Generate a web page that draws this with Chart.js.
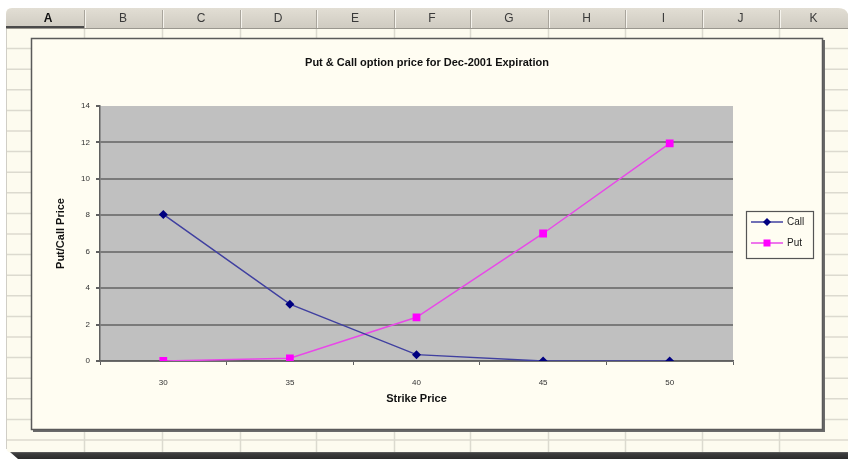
<!DOCTYPE html>
<html><head><meta charset="utf-8">
<script src="https://cdn.jsdelivr.net/npm/chart.js@4.4.1/dist/chart.umd.min.js"></script>
<style>html,body{margin:0;padding:0;background:#fff;overflow:hidden}#wrap{width:848px;height:459px;position:relative}</style>
</head><body><div id="wrap"><canvas id="c" width="848" height="459"></canvas></div>
<script>
const chartTitle = 'Put & Call option price for Dec-2001 Expiration';
const xAxisTitle = 'Strike Price';
const yAxisTitle = 'Put/Call Price';
const strikes = ['30', '35', '40', '45', '50'];
const callPrices = [8.05, 3.12, 0.35, 0, 0];
const putPrices = [0, 0.15, 2.4, 7.0, 11.95];
const yMin = 0, yMax = 14, yStep = 2;
const columnLetters = ['A', 'B', 'C', 'D', 'E', 'F', 'G', 'H', 'I', 'J', 'K'];
const columnEdges = [6, 84, 162, 240, 316, 394, 470, 548, 625, 702, 779, 848];

const FONT = "'Liberation Sans', Arial, sans-serif";

const sheetPlugin = {
  id: 'sheet',
  beforeDraw(chart) {
    const ctx = chart.ctx;
    const W = 848, H = 459;
    ctx.save();
    ctx.fillStyle = '#ffffff';
    ctx.fillRect(0, 0, W, H);
    // sheet body
    ctx.fillStyle = '#fdfbef';
    ctx.beginPath();
    ctx.moveTo(6, 14);
    ctx.quadraticCurveTo(6, 8, 12, 8);
    ctx.lineTo(838, 8);
    ctx.quadraticCurveTo(846, 8, 848, 14);
    ctx.lineTo(848, 453);
    ctx.lineTo(12, 453);
    ctx.quadraticCurveTo(6, 453, 6, 446);
    ctx.closePath();
    ctx.fill();
    // header row
    const g = ctx.createLinearGradient(0, 8, 0, 28);
    g.addColorStop(0, '#e2ded4');
    g.addColorStop(1, '#cfcbc1');
    ctx.fillStyle = g;
    ctx.beginPath();
    ctx.moveTo(6, 14);
    ctx.quadraticCurveTo(6, 8, 12, 8);
    ctx.lineTo(838, 8);
    ctx.quadraticCurveTo(846, 8, 848, 14);
    ctx.lineTo(848, 28);
    ctx.lineTo(6, 28);
    ctx.closePath();
    ctx.fill();
    // selected column A header bottom
    ctx.fillStyle = '#4a4a4a';
    ctx.fillRect(6, 26, 78, 2);
    ctx.fillStyle = '#9a978f';
    ctx.fillRect(6, 28, 842, 1);
    // cell grid
    ctx.strokeStyle = '#dcdacf';
    ctx.lineWidth = 1.5;
    for (let i = 1; i < columnEdges.length - 1; i++) {
      ctx.beginPath();
      ctx.moveTo(columnEdges[i] + 0.5, 29);
      ctx.lineTo(columnEdges[i] + 0.5, 452);
      ctx.stroke();
    }
    for (let y = 48.6; y < 452; y += 20.6) {
      ctx.beginPath();
      ctx.moveTo(6, y);
      ctx.lineTo(848, y);
      ctx.stroke();
    }
    // header dividers
    for (let i = 1; i < columnEdges.length - 1; i++) {
      ctx.fillStyle = '#a9a59c';
      ctx.fillRect(columnEdges[i], 10, 1, 18);
      ctx.fillStyle = '#f6f4ee';
      ctx.fillRect(columnEdges[i] + 1, 10, 1, 18);
    }
    // header letters
    ctx.textAlign = 'center';
    ctx.textBaseline = 'middle';
    for (let i = 0; i < columnLetters.length; i++) {
      const cx = (columnEdges[i] + columnEdges[i + 1]) / 2 + (i === 0 ? 3 : 0);
      ctx.fillStyle = i === 0 ? '#111' : '#3a3a3a';
      ctx.font = (i === 0 ? 'bold ' : '') + '12px ' + FONT;
      ctx.fillText(columnLetters[i], cx, 18.5);
    }
    // left sheet edge
    ctx.fillStyle = '#d0cec6';
    ctx.fillRect(6, 29, 1, 420);
    // bottom shadow
    const sg = ctx.createLinearGradient(0, 450, 0, 459);
    sg.addColorStop(0, '#9a9a9a');
    sg.addColorStop(0.4, '#3c3c3c');
    sg.addColorStop(1, '#2a2a2a');
    ctx.fillStyle = sg;
    ctx.beginPath();
    ctx.moveTo(10, 452);
    ctx.lineTo(848, 452);
    ctx.lineTo(848, 459);
    ctx.lineTo(18, 459);
    ctx.closePath();
    ctx.fill();
    // chart box
    ctx.fillStyle = '#6a6a6a';
    ctx.fillRect(33, 40, 792, 392);
    ctx.fillStyle = '#fffdf2';
    ctx.fillRect(31, 38, 792, 392);
    ctx.strokeStyle = '#5a5a5a';
    ctx.lineWidth = 1.5;
    ctx.strokeRect(31.5, 38.5, 791, 391);
    // plot area
    const a = chart.chartArea;
    ctx.fillStyle = '#c0c0c0';
    ctx.fillRect(a.left, a.top, a.right - a.left, a.bottom - a.top);
    ctx.restore();
  },
  afterDraw(chart) {
    const ctx = chart.ctx;
    ctx.save();
    // title
    ctx.fillStyle = '#111';
    ctx.font = 'bold 11px ' + FONT;
    ctx.textAlign = 'center';
    ctx.textBaseline = 'middle';
    ctx.fillText(chartTitle, 427, 62.5);
    // legend
    const lx = 746, ly = 211, lw = 67, lh = 47;
    ctx.fillStyle = '#fffdf2';
    ctx.fillRect(lx, ly, lw, lh);
    ctx.strokeStyle = '#555';
    ctx.lineWidth = 1.2;
    ctx.strokeRect(lx + 0.5, ly + 0.5, lw, lh);
    chart.data.datasets.forEach((ds, i) => {
      const y = 222 + i * 21;
      ctx.strokeStyle = ds.borderColor;
      ctx.lineWidth = 1.5;
      ctx.beginPath();
      ctx.moveTo(751, y);
      ctx.lineTo(783, y);
      ctx.stroke();
      ctx.fillStyle = ds.pointBackgroundColor;
      if (ds.pointStyle === 'rectRot') {
        ctx.beginPath();
        ctx.moveTo(767, y - 4);
        ctx.lineTo(771, y);
        ctx.lineTo(767, y + 4);
        ctx.lineTo(763, y);
        ctx.closePath();
        ctx.fill();
      } else {
        ctx.fillRect(763.5, y - 3.5, 7, 7);
      }
      ctx.fillStyle = '#222';
      ctx.font = '10px ' + FONT;
      ctx.textAlign = 'left';
      ctx.fillText(ds.label, 787, y + 0.5);
    });
    ctx.restore();
  }
};

new Chart(document.getElementById('c'), {
  type: 'line',
  data: {
    labels: strikes,
    datasets: [
      {
        label: 'Call',
        data: callPrices,
        borderColor: '#4040a0',
        borderWidth: 1.5,
        pointStyle: 'rectRot',
        pointRadius: 4.5,
        pointBackgroundColor: '#000080',
        pointBorderColor: '#000080',
        pointBorderWidth: 0,
        tension: 0
      },
      {
        label: 'Put',
        data: putPrices,
        borderColor: '#e848e8',
        borderWidth: 1.5,
        pointStyle: 'rect',
        pointRadius: 5.5,
        pointBackgroundColor: '#ff00ff',
        pointBorderColor: '#ff00ff',
        pointBorderWidth: 0,
        tension: 0
      }
    ]
  },
  options: {
    responsive: false,
    animation: false,
    devicePixelRatio: 1,
    layout: { padding: { left: 50, right: 115, top: 106, bottom: 49 } },
    plugins: { legend: { display: false }, title: { display: false }, tooltip: { enabled: false } },
    scales: {
      x: {
        type: 'category',
        offset: true,
        afterFit(s) { s.height = 49; },
        grid: { display: true, drawOnChartArea: false, drawTicks: true, tickLength: 4, color: '#606060', offset: true },
        border: { display: true, color: '#606060', width: 1.5 },
        ticks: { font: { family: FONT, size: 8 }, color: '#333', padding: 13, maxRotation: 0 },
        title: { display: true, text: xAxisTitle, font: { family: FONT, size: 11, weight: 'bold' }, color: '#111', padding: { top: 4, bottom: 4 } }
      },
      y: {
        min: yMin,
        max: yMax,
        afterFit(s) { s.width = 50; },
        grid: {
          color: (c) => (c.tick && c.tick.value === yMax) ? 'rgba(0,0,0,0)' : '#7a7a7a',
          lineWidth: 2,
          tickLength: 4,
          tickColor: '#606060',
          drawTicks: true
        },
        border: { display: true, color: '#606060', width: 1.5 },
        ticks: { stepSize: yStep, font: { family: FONT, size: 8 }, color: '#333', padding: 6 },
        title: { display: true, text: yAxisTitle, font: { family: FONT, size: 11, weight: 'bold' }, color: '#111', padding: { top: 4, bottom: 4 } }
      }
    }
  },
  plugins: [sheetPlugin]
});
</script>
</body></html>
